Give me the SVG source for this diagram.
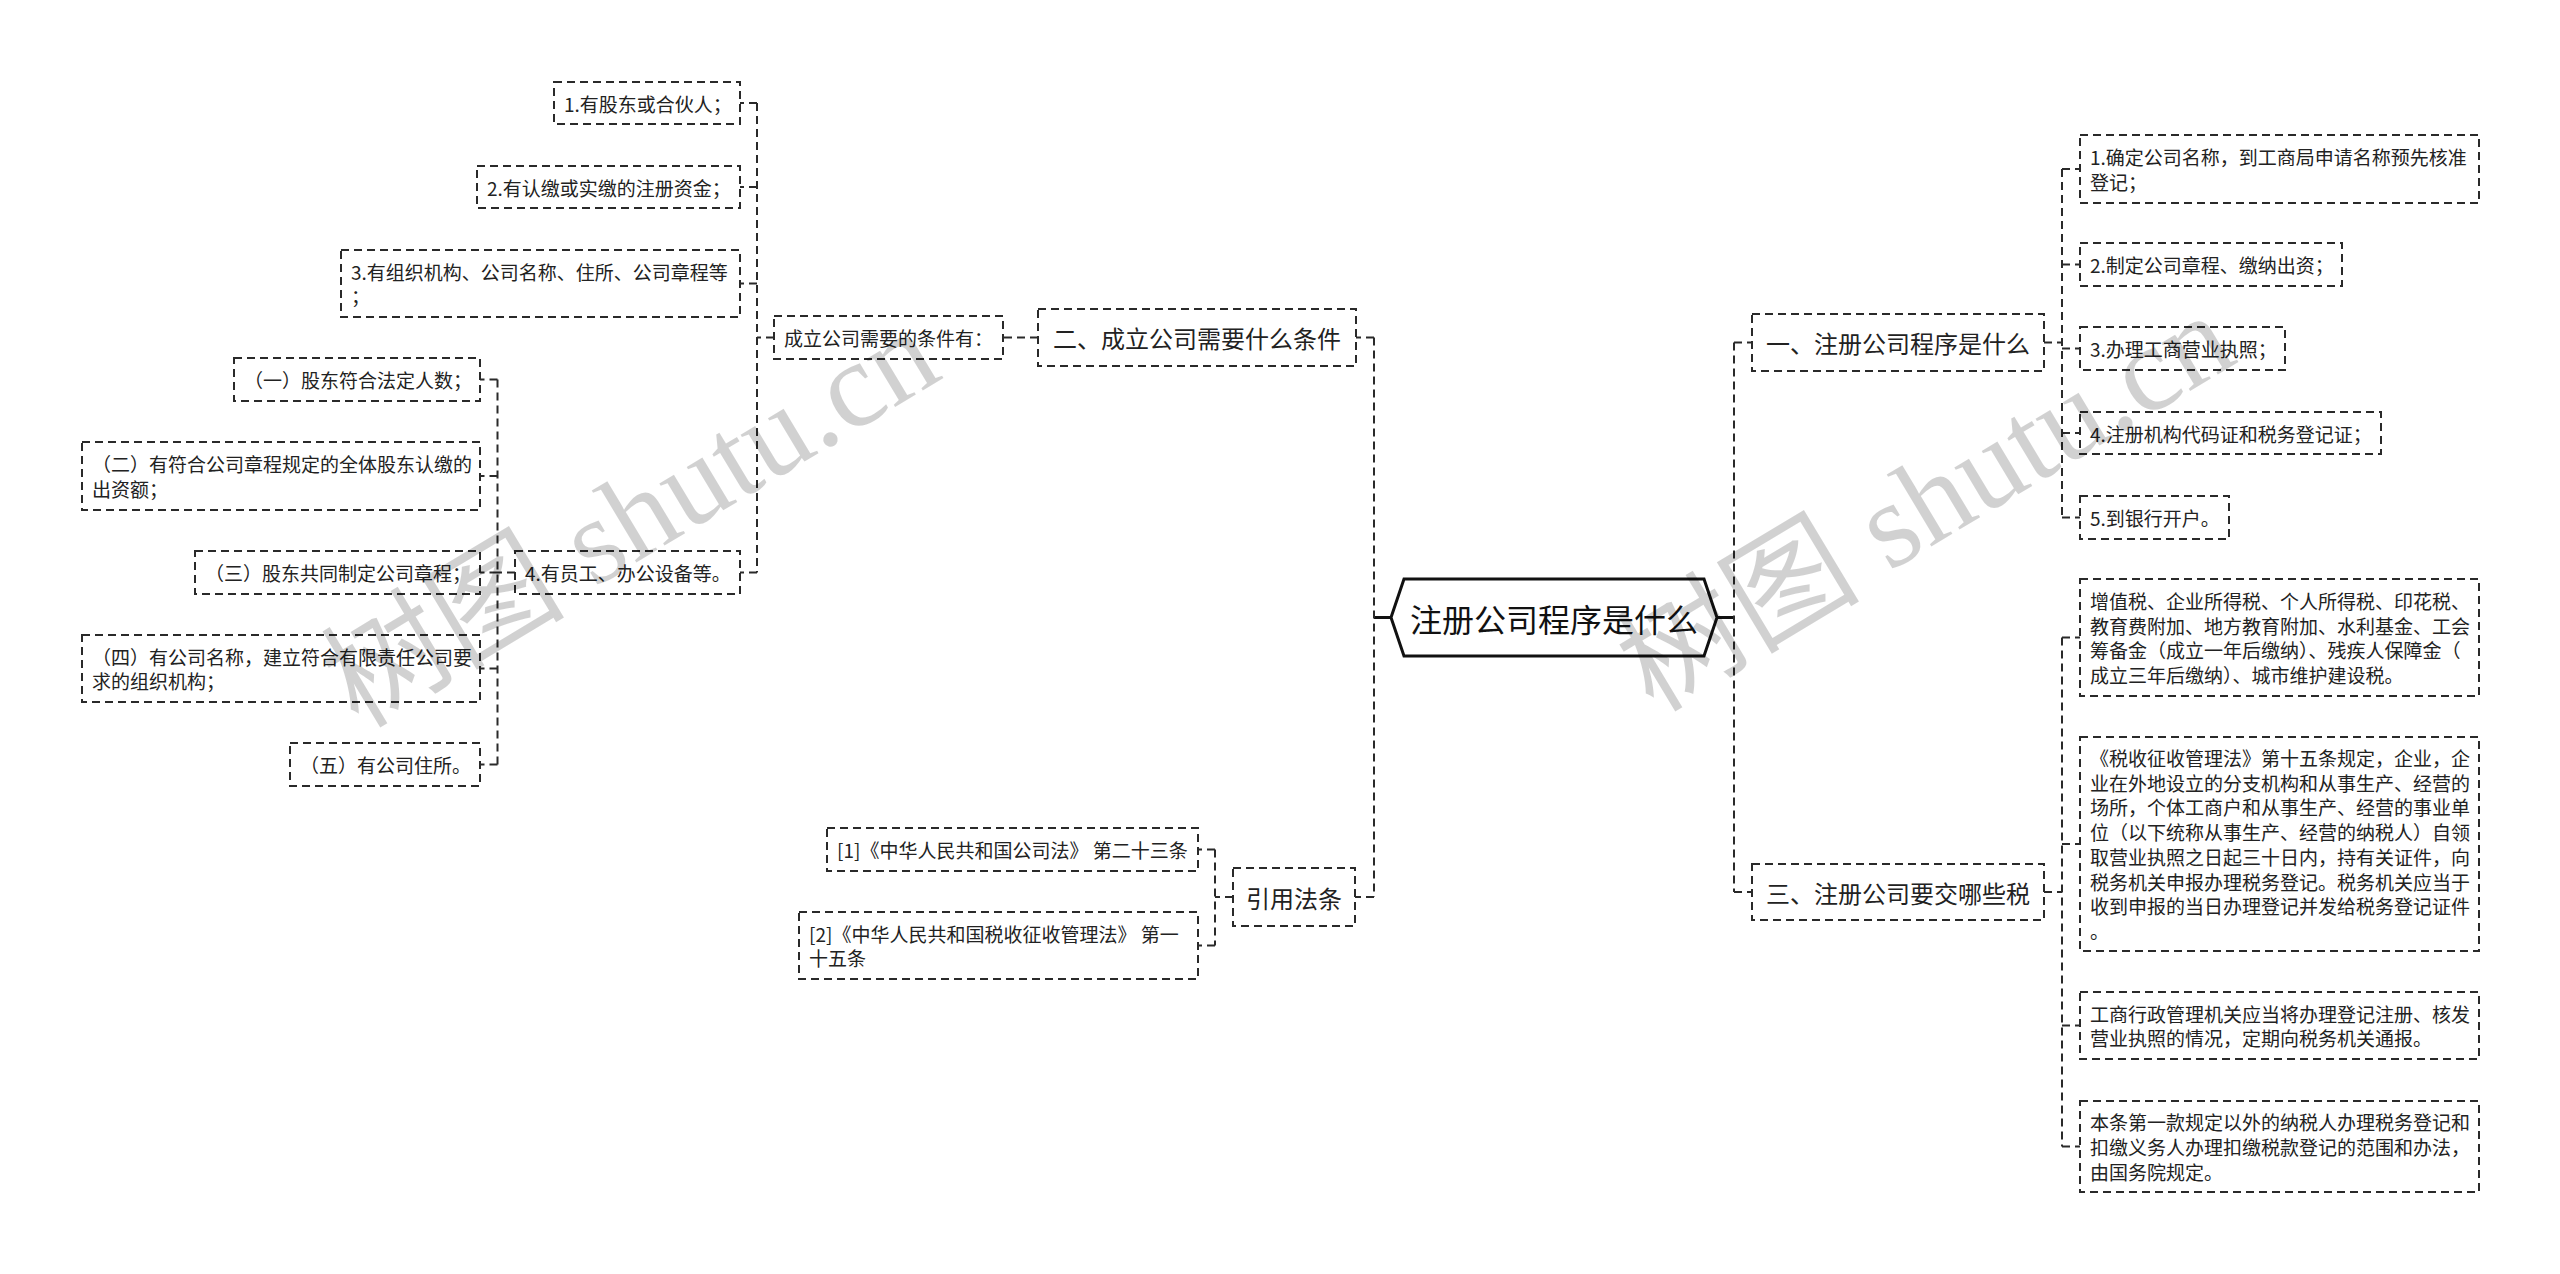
<svg xmlns="http://www.w3.org/2000/svg" width="2560" height="1274" viewBox="0 0 2560 1274">
<style>
.box{fill:#fff;stroke:#2a2a2a;stroke-width:2;stroke-dasharray:8 5}
.ln{fill:none;stroke:#2a2a2a;stroke-width:2;stroke-dasharray:8 5}
.solid{fill:none;stroke:#111;stroke-width:3}
.t{font-family:"Noto Sans CJK SC",sans-serif;font-size:19px;fill:#222;dominant-baseline:central}
.m{font-family:"Noto Sans CJK SC",sans-serif;font-size:24px;fill:#222;dominant-baseline:central;text-anchor:middle}
.c{font-family:"Noto Sans CJK SC",sans-serif;font-size:32px;fill:#111;dominant-baseline:central;text-anchor:middle}
.wm{font-family:"Liberation Serif","Noto Sans CJK SC",serif;font-size:122px;fill:#000;fill-opacity:0.18;dominant-baseline:central}
</style>
<rect width="2560" height="1274" fill="#fff"/>
<g id="connectors">
<path class="solid" d="M1391 617.5H1374M1717 617.5H1734"/>
<path class="ln" d="M1374 337.5V897M1374 337.5H1356M1374 897H1355"/>
<path class="ln" d="M1038 337.5H1003"/>
<path class="ln" d="M774 337.5H757M757 103V572.5M757 103H740M757 187H740M757 283.5H740M757 572.5H740"/>
<path class="ln" d="M515 572.5H497.5M497.5 379.5V764.5M497.5 379.5H480M497.5 476H480M497.5 572.5H480M497.5 668.5H480M497.5 764.5H480"/>
<path class="ln" d="M1233 897H1215M1215 849.5V945.5M1215 849.5H1198M1215 945.5H1198"/>
<path class="ln" d="M1734 342.5V892M1734 342.5H1752M1734 892H1752"/>
<path class="ln" d="M2044 342.5H2062M2062 169V517.5M2062 169H2080M2062 264.5H2080M2062 348.5H2080M2062 433H2080M2062 517.5H2080"/>
<path class="ln" d="M2044 892H2062M2062 637.5V1146.5M2062 637.5H2080M2062 844H2080M2062 1025.5H2080M2062 1146.5H2080"/>
</g>
<g id="center">
<polygon points="1391,617.5 1404,579 1704,579 1717,617.5 1704,656 1404,656" fill="#fff" stroke="#111" stroke-width="3"/>
<text class="c" x="1554" y="617.5">注册公司程序是什么</text>
</g>
<g id="n-er">
<rect class="box" x="1038" y="309" width="318" height="57"/>
<text class="m" x="1197" y="337.5">二、成立公司需要什么条件</text>
</g>
<g id="n-cond">
<rect class="box" x="774" y="316" width="229" height="43"/>
<text class="t" x="784" y="337.5">成立公司需要的条件有：</text>
</g>
<g id="n-b1">
<rect class="box" x="554" y="82" width="186" height="42"/>
<text class="t" x="564" y="103">1.有股东或合伙人；</text>
</g>
<g id="n-b2">
<rect class="box" x="477" y="166" width="263" height="42"/>
<text class="t" x="487" y="187">2.有认缴或实缴的注册资金；</text>
</g>
<g id="n-b3">
<rect class="box" x="341" y="250" width="399" height="67"/>
<text class="t" x="351" y="271.2">3.有组织机构、公司名称、住所、公司章程等</text>
<text class="t" x="351" y="295.9">；</text>
</g>
<g id="n-b4">
<rect class="box" x="515" y="551" width="225" height="43"/>
<text class="t" x="525" y="572.5">4.有员工、办公设备等。</text>
</g>
<g id="n-s1">
<rect class="box" x="234" y="358" width="246" height="43"/>
<text class="t" x="244" y="379.5">（一）股东符合法定人数；</text>
</g>
<g id="n-s2">
<rect class="box" x="82" y="442" width="398" height="68"/>
<text class="t" x="92" y="463.6">（二）有符合公司章程规定的全体股东认缴的</text>
<text class="t" x="92" y="488.3">出资额；</text>
</g>
<g id="n-s3">
<rect class="box" x="195" y="551" width="285" height="43"/>
<text class="t" x="205" y="572.5">（三）股东共同制定公司章程；</text>
</g>
<g id="n-s4">
<rect class="box" x="82" y="635" width="398" height="67"/>
<text class="t" x="92" y="656.2">（四）有公司名称，建立符合有限责任公司要</text>
<text class="t" x="92" y="680.9">求的组织机构；</text>
</g>
<g id="n-s5">
<rect class="box" x="290" y="743" width="190" height="43"/>
<text class="t" x="300" y="764.5">（五）有公司住所。</text>
</g>
<g id="n-cite">
<rect class="box" x="1233" y="868" width="122" height="58"/>
<text class="m" x="1294" y="897">引用法条</text>
</g>
<g id="n-c1">
<rect class="box" x="827" y="828" width="371" height="43"/>
<text class="t" x="837" y="849.5">[1]《中华人民共和国公司法》 第二十三条</text>
</g>
<g id="n-c2">
<rect class="box" x="799" y="912" width="399" height="67"/>
<text class="t" x="809" y="933.2">[2]《中华人民共和国税收征收管理法》 第一</text>
<text class="t" x="809" y="957.9">十五条</text>
</g>
<g id="n-yi">
<rect class="box" x="1752" y="314" width="292" height="57"/>
<text class="m" x="1898" y="342.5">一、注册公司程序是什么</text>
</g>
<g id="n-r1">
<rect class="box" x="2080" y="135" width="399" height="68"/>
<text class="t" x="2090" y="156.6">1.确定公司名称，到工商局申请名称预先核准</text>
<text class="t" x="2090" y="181.3">登记；</text>
</g>
<g id="n-r2">
<rect class="box" x="2080" y="243" width="262" height="43"/>
<text class="t" x="2090" y="264.5">2.制定公司章程、缴纳出资；</text>
</g>
<g id="n-r3">
<rect class="box" x="2080" y="327" width="205" height="43"/>
<text class="t" x="2090" y="348.5">3.办理工商营业执照；</text>
</g>
<g id="n-r4">
<rect class="box" x="2080" y="412" width="301" height="42"/>
<text class="t" x="2090" y="433">4.注册机构代码证和税务登记证；</text>
</g>
<g id="n-r5">
<rect class="box" x="2080" y="496" width="149" height="43"/>
<text class="t" x="2090" y="517.5">5.到银行开户。</text>
</g>
<g id="n-san">
<rect class="box" x="1752" y="864" width="292" height="56"/>
<text class="m" x="1898" y="892">三、注册公司要交哪些税</text>
</g>
<g id="n-t1">
<rect class="box" x="2080" y="579" width="399" height="117"/>
<text class="t" x="2090" y="600.45">增值税、企业所得税、个人所得税、印花税、</text>
<text class="t" x="2090" y="625.15">教育费附加、地方教育附加、水利基金、工会</text>
<text class="t" x="2090" y="649.85">筹备金（成立一年后缴纳）、残疾人保障金（</text>
<text class="t" x="2090" y="674.55">成立三年后缴纳）、城市维护建设税。</text>
</g>
<g id="n-t2">
<rect class="box" x="2080" y="737" width="399" height="214"/>
<text class="t" x="2090" y="757.55">《税收征收管理法》第十五条规定，企业，企</text>
<text class="t" x="2090" y="782.25">业在外地设立的分支机构和从事生产、经营的</text>
<text class="t" x="2090" y="806.95">场所，个体工商户和从事生产、经营的事业单</text>
<text class="t" x="2090" y="831.65">位（以下统称从事生产、经营的纳税人）自领</text>
<text class="t" x="2090" y="856.35">取营业执照之日起三十日内，持有关证件，向</text>
<text class="t" x="2090" y="881.05">税务机关申报办理税务登记。税务机关应当于</text>
<text class="t" x="2090" y="905.75">收到申报的当日办理登记并发给税务登记证件</text>
<text class="t" x="2090" y="930.45">。</text>
</g>
<g id="n-t3">
<rect class="box" x="2080" y="992" width="399" height="67"/>
<text class="t" x="2090" y="1013.2">工商行政管理机关应当将办理登记注册、核发</text>
<text class="t" x="2090" y="1037.9">营业执照的情况，定期向税务机关通报。</text>
</g>
<g id="n-t4">
<rect class="box" x="2080" y="1101" width="399" height="91"/>
<text class="t" x="2090" y="1121.8">本条第一款规定以外的纳税人办理税务登记和</text>
<text class="t" x="2090" y="1146.5">扣缴义务人办理扣缴税款登记的范围和办法，</text>
<text class="t" x="2090" y="1171.2">由国务院规定。</text>
</g>
<g id="watermarks">
<text class="wm" transform="translate(337,694) rotate(-31)">树图 shutu.cn</text>
<text class="wm" transform="translate(1632,678) rotate(-31)">树图 shutu.cn</text>
</g>
</svg>
